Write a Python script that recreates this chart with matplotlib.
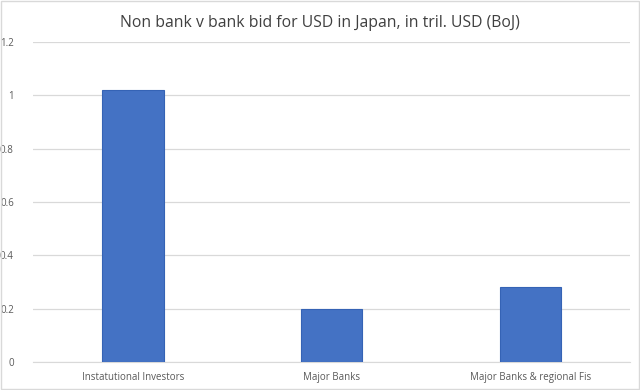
import matplotlib.pyplot as plt
from matplotlib.ticker import FuncFormatter
import numpy as np

categories = ["Instatutional Investors", "Major Banks", "Major Banks & regional Fis"]
values = [1.02, 0.20, 0.28]

plt.rcParams['font.family'] = ['Open Sans', 'DejaVu Sans']

fig = plt.figure(figsize=(6.4, 3.9), dpi=100)
ax = fig.add_axes([0.052, 0.072, 0.932, 0.82])

x = np.arange(len(categories))
ax.bar(x, values, width=0.31, color="#4472C4", edgecolor="#3563B5", linewidth=0.8, zorder=3)

ax.set_xlim(-0.5, len(categories) - 0.5)
ax.set_ylim(0, 1.2)
ax.set_yticks(np.arange(0, 1.21, 0.2))
ax.yaxis.set_major_formatter(FuncFormatter(lambda v, p: "%g" % round(v, 1)))
ax.set_xticks(x)
ax.set_xticklabels(categories)
ax.tick_params(axis="both", length=0, labelsize=7, colors="#595959")
ax.tick_params(axis="y", pad=14)
ax.tick_params(axis="x", pad=7)
ax.grid(axis="y", color="#D9D9D9", linewidth=0.9, zorder=0)
for s in ["top", "right", "left"]:
    ax.spines[s].set_visible(False)
ax.spines["bottom"].set_color("#D9D9D9")

fig.suptitle("Non bank v bank bid for USD in Japan, in tril. USD (BoJ)",
             fontsize=11.3, color="#404040", y=0.962)

fig.patches.append(plt.Rectangle((0.002, 0.002), 0.996, 0.996, transform=fig.transFigure,
                                 fill=False, edgecolor="#D9D9D9", linewidth=1))

fig.savefig("out.png", dpi=100)
